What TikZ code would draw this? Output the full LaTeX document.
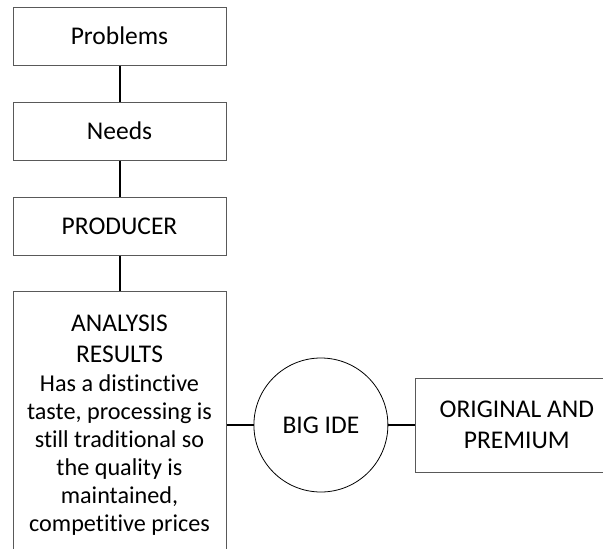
\documentclass[tikz,border=0pt]{standalone}
\usepackage{fontspec}
\setmainfont[Ligatures=CommonOff]{Carlito}
\usetikzlibrary{positioning}

\begin{document}
\begin{tikzpicture}[
		every node/.style={font=\fontsize{25.5}{31}\selectfont, inner sep=0pt},
		box/.style={draw=black!65, line width=1pt, minimum width=213pt, minimum height=58pt},
		idea/.style={circle, draw, line width=0.8pt, minimum size=134pt},
		link/.style={line width=2pt}
	]

	% picture frame, the lower and right boxes run past it
	\clip (0,0) rectangle (603pt,-549pt);

	% chain of boxes on the left
	\node[box] (problems) at (119.5pt,-36pt) {Problems};
	\node[box, below=36pt of problems] (needs) {Needs};
	\node[box, below=36pt of needs] (producer) {PRODUCER};
	\node[box, below=35pt of producer, minimum height=268pt, align=center,
		font=\fontsize{24.2}{28}\selectfont] (analysis)
		{{\fontsize{25.5}{28}\selectfont ANALYSIS}\\[3pt]
		{\fontsize{25.5}{28}\selectfont RESULTS}\\[1pt]
		Has a distinctive\\
		taste, processing is\\
		still traditional so\\
		the quality is\\
		maintained,\\
		competitive prices};

	% idea and result
	\node[idea, right=27pt of analysis] (bigide) {BIG IDE};
	\node[box, right=27pt of bigide, minimum width=202pt, minimum height=94pt, align=center] (original)
		{ORIGINAL AND\\PREMIUM};

	% connectors
	\draw[link] (problems) -- (needs);
	\draw[link] (needs) -- (producer);
	\draw[link] (producer) -- (analysis);
	\draw[link] (analysis) -- (bigide);
	\draw[link] (bigide) -- (original);

\end{tikzpicture}
\end{document}
